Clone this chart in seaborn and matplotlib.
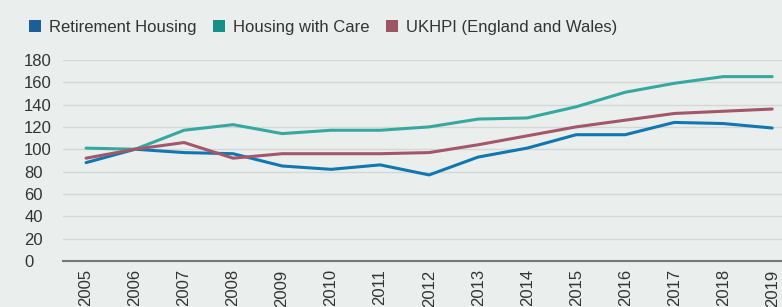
import pandas as pd
import matplotlib.pyplot as plt
import seaborn as sns
from matplotlib.patches import Patch

# Data (index, 2006 = 100)
years = list(range(2005, 2020))
retirement_housing = [88, 100, 97, 96, 85, 82, 86, 77, 93, 101, 113, 113, 124, 123, 119]
housing_with_care = [101, 100, 117, 122, 114, 117, 117, 120, 127, 128, 138, 151, 159, 165, 165]
ukhpi = [92, 100, 106, 92, 96, 96, 96, 97, 104, 112, 120, 126, 132, 134, 136]

series_names = ["Retirement Housing", "Housing with Care", "UKHPI (England and Wales)"]
colors = ["#1177B0", "#35A8A0", "#A4566B"]
legend_colors = ["#1B5E98", "#16918A", "#9C5565"]
y_ticks = list(range(0, 181, 20))

df = pd.DataFrame({
    "year": years * 3,
    "value": retirement_housing + housing_with_care + ukhpi,
    "series": [series_names[0]] * len(years) + [series_names[1]] * len(years) + [series_names[2]] * len(years),
})

sns.set_theme(style="white")
plt.rcParams["font.family"] = ["Liberation Sans", "DejaVu Sans"]
bg = "#EAEFED"
text_col = "#333333"

fig = plt.figure(figsize=(7.82, 3.07), dpi=100, facecolor=bg)
ax = fig.add_axes([0.0806, 0.150, 0.9194, 0.655])
ax.set_facecolor(bg)

sns.lineplot(data=df, x="year", y="value", hue="series", palette=colors,
             linewidth=2.2, ax=ax, legend=False)

ax.set_xlim(2005 - 0.47, 2019 + 0.2)
ax.set_ylim(0, 180)
ax.set_yticks(y_ticks)
ax.set_xticks(years)
ax.set_xticklabels([str(y) for y in years], rotation=90, fontsize=12, color=text_col)
ax.set_yticklabels([str(v) for v in y_ticks], fontsize=12, color=text_col, ha="left")
ax.tick_params(axis="y", length=0, pad=28)
ax.tick_params(axis="x", length=0, pad=6)
ax.set_xlabel("")
ax.set_ylabel("")

ax.grid(axis="y", color="#D3D8D7", linewidth=1.0)
ax.set_axisbelow(True)
for side in ["left", "right", "top"]:
    ax.spines[side].set_visible(False)
ax.spines["bottom"].set_color("#777777")
ax.spines["bottom"].set_linewidth(1.5)

handles = [Patch(facecolor=c, edgecolor="none") for c in legend_colors]
fig.legend(handles, series_names, loc="center left", bbox_to_anchor=(0.026, 0.91),
           ncol=3, frameon=False, fontsize=12, handlelength=0.75, handleheight=0.75,
           handletextpad=0.45, columnspacing=1.0, borderpad=0, labelcolor=text_col)

fig.savefig("out.png", dpi=100, facecolor=bg)
